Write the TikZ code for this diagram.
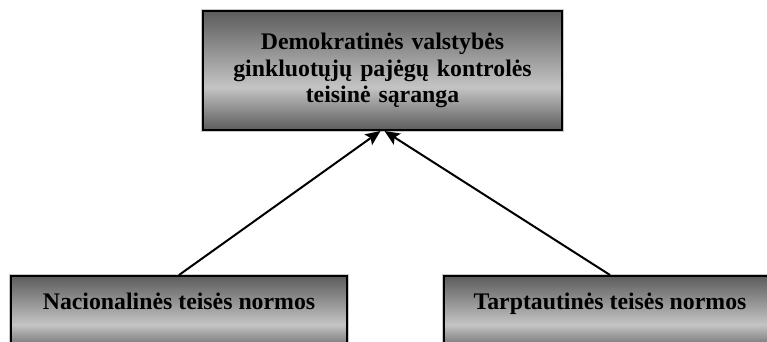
\documentclass[tikz,border=0pt]{standalone}
\usepackage{fontspec}
\setmainfont{Liberation Serif}
\usepackage{tikz}
\definecolor{darkish}{RGB}{92, 92, 92}
\definecolor{lightish}{RGB}{196, 196, 196}
\definecolor{haloish}{RGB}{200, 200, 200}
\usetikzlibrary{arrows.meta}
\pgfdeclareverticalshading{boxshade}{100bp}{color(0bp)=(darkish); color(25bp)=(darkish);
  color(43bp)=(lightish); color(75bp)=(darkish); color(100bp)=(darkish)}
\tikzset{
  normbox/.style = {align=center, inner sep=0pt, text centered,
    font=\bfseries\fontsize{23.8}{26.5}\selectfont, shading=boxshade,
    draw=black, line width=2pt,
    preaction={draw=haloish, line width=4pt}},% pilkas remelis
  normtop/.style = {normbox, minimum width=359pt, minimum height=119pt,
    text width=340pt},% virsutinis blokas
  normlow/.style = {normbox, anchor=north, inner ysep=8pt,
    text height=25pt, text depth=35pt},% apatiniai blokai
}

\begin{document}
\begin{tikzpicture}[x=1pt, y=-1pt, ->, >={Stealth[length=15pt, width=13pt, inset=3pt]},
  line width=2pt]
\useasboundingbox (0,0) rectangle (767,342);
\clip (0,0) rectangle (767,342);
\node [normtop] (saranga) at (382.5,70.5)
  {Demokratinės valstybės\\ ginkluotųjų pajėgų kontrolės\\ teisinė sąranga};
\node [normlow, minimum width=336pt] (nacional) at (179,275) {Nacionalinės teisės normos};
\node [normlow, minimum width=332pt] (tarptaut) at (610,275) {Tarptautinės teisės normos};
\draw (nacional.north) -- ([xshift=-2pt]saranga.south);
\draw (tarptaut.north) -- ([xshift=2pt]saranga.south);
\end{tikzpicture}
\end{document}
